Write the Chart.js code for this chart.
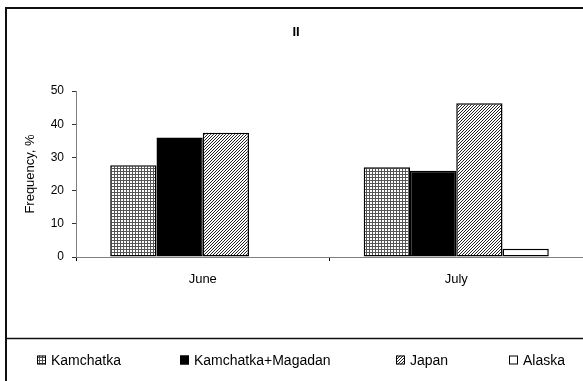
<!DOCTYPE html>
<html lang="en">
<head>
<meta charset="UTF-8">
<title>Frequency II</title>
<script src="https://cdn.jsdelivr.net/npm/chart.js@4"></script>
<style>
  html, body { margin: 0; padding: 0; background: #fff; }
  #chart { display: block; }
</style>
</head>
<body>
<canvas id="chart" width="583" height="381"></canvas>
<script>
const categories = ['June', 'July'];
const kamchatka = [27.6, 27.0];
const kamchatkaMagadan = [36.0, 26.0];
const japan = [37.4, 46.3];
const alaska = [0, 2.5];
const yTicks = [0, 10, 20, 30, 40, 50];

const FONT = "'Liberation Sans', Arial, sans-serif";

// small repeating tiles for the hatched fills
function makePattern(size, ink, draw) {
  const c = document.createElement('canvas');
  c.width = size;
  c.height = size;
  const g = c.getContext('2d');
  g.fillStyle = '#fff';
  g.fillRect(0, 0, size, size);
  g.fillStyle = ink;
  draw(g, size);
  return g.createPattern(c, 'repeat');
}

const gridFill = makePattern(3, '#555', (g) => {
  g.fillRect(0, 0, 3, 1);
  g.fillRect(0, 0, 1, 3);
});

const stripeFill = makePattern(3, '#222', (g) => {
  for (let x = 0; x < 3; x++) {
    g.fillRect(x, 2 - x, 1, 1);
  }
});

const legendX = [37, 180, 396, 509];

// outer frame, legend box and legend entries
const frame = {
  id: 'frame',
  afterDraw(chart) {
    const ctx = chart.ctx;
    ctx.save();
    ctx.strokeStyle = '#111';
    ctx.lineWidth = 2;
    ctx.beginPath();
    ctx.moveTo(6, 400);
    ctx.lineTo(6, 8);
    ctx.lineTo(600, 8);
    ctx.stroke();
    ctx.lineWidth = 1.5;
    ctx.beginPath();
    ctx.moveTo(6, 338.5);
    ctx.lineTo(600, 338.5);
    ctx.stroke();

    ctx.font = '14px ' + FONT;
    ctx.textBaseline = 'middle';
    chart.data.datasets.forEach((ds, i) => {
      const x = legendX[i];
      const y = 360;
      ctx.fillStyle = ds.backgroundColor;
      ctx.fillRect(x, y - 4.5, 9, 9);
      ctx.strokeStyle = '#000';
      ctx.lineWidth = 1;
      ctx.strokeRect(x + 0.5, y - 4, 8, 8);
      ctx.fillStyle = '#000';
      ctx.fillText(ds.label, x + 14, y + 1);
    });
    ctx.restore();
  }
};

new Chart(document.getElementById('chart'), {
  type: 'bar',
  data: {
    labels: categories,
    datasets: [
      { label: 'Kamchatka', data: kamchatka, backgroundColor: gridFill },
      { label: 'Kamchatka+Magadan', data: kamchatkaMagadan, backgroundColor: '#000' },
      { label: 'Japan', data: japan, backgroundColor: stripeFill },
      { label: 'Alaska', data: alaska, backgroundColor: '#fff' }
    ]
  },
  options: {
    responsive: false,
    animation: false,
    layout: { padding: { left: 9, right: 0, top: 0, bottom: 0 } },
    datasets: {
      bar: {
        borderColor: '#000',
        borderWidth: 1.5,
        borderSkipped: false,
        categoryPercentage: 0.73,
        barPercentage: 1
      }
    },
    plugins: {
      legend: { display: false },
      tooltip: { enabled: false },
      title: {
        display: true,
        text: 'II',
        color: '#000',
        font: { family: FONT, size: 13, weight: 'bold' },
        padding: { top: 24.7, bottom: 50.7 }
      }
    },
    scales: {
      x: {
        grid: { display: true, drawOnChartArea: false, drawTicks: true, tickLength: 4, color: '#000' },
        border: { display: true, color: '#808080', width: 1 },
        ticks: { color: '#000', font: { family: FONT, size: 13 }, padding: 11 },
        afterFit(scale) { scale.height = 124; }
      },
      y: {
        min: 0,
        max: 50,
        afterBuildTicks(scale) { scale.ticks = yTicks.map(v => ({ value: v })); },
        grid: { drawOnChartArea: false, tickLength: 4, color: '#333' },
        border: { color: '#808080' },
        ticks: { color: '#000', font: { family: FONT, size: 12 }, padding: 8 },
        title: {
          display: true,
          text: 'Frequency, %',
          color: '#000',
          font: { family: FONT, size: 13 },
          padding: { top: 14, bottom: 0 }
        },
        afterFit(scale) { scale.width = 67; }
      }
    }
  },
  plugins: [frame]
});
</script>
</body>
</html>
